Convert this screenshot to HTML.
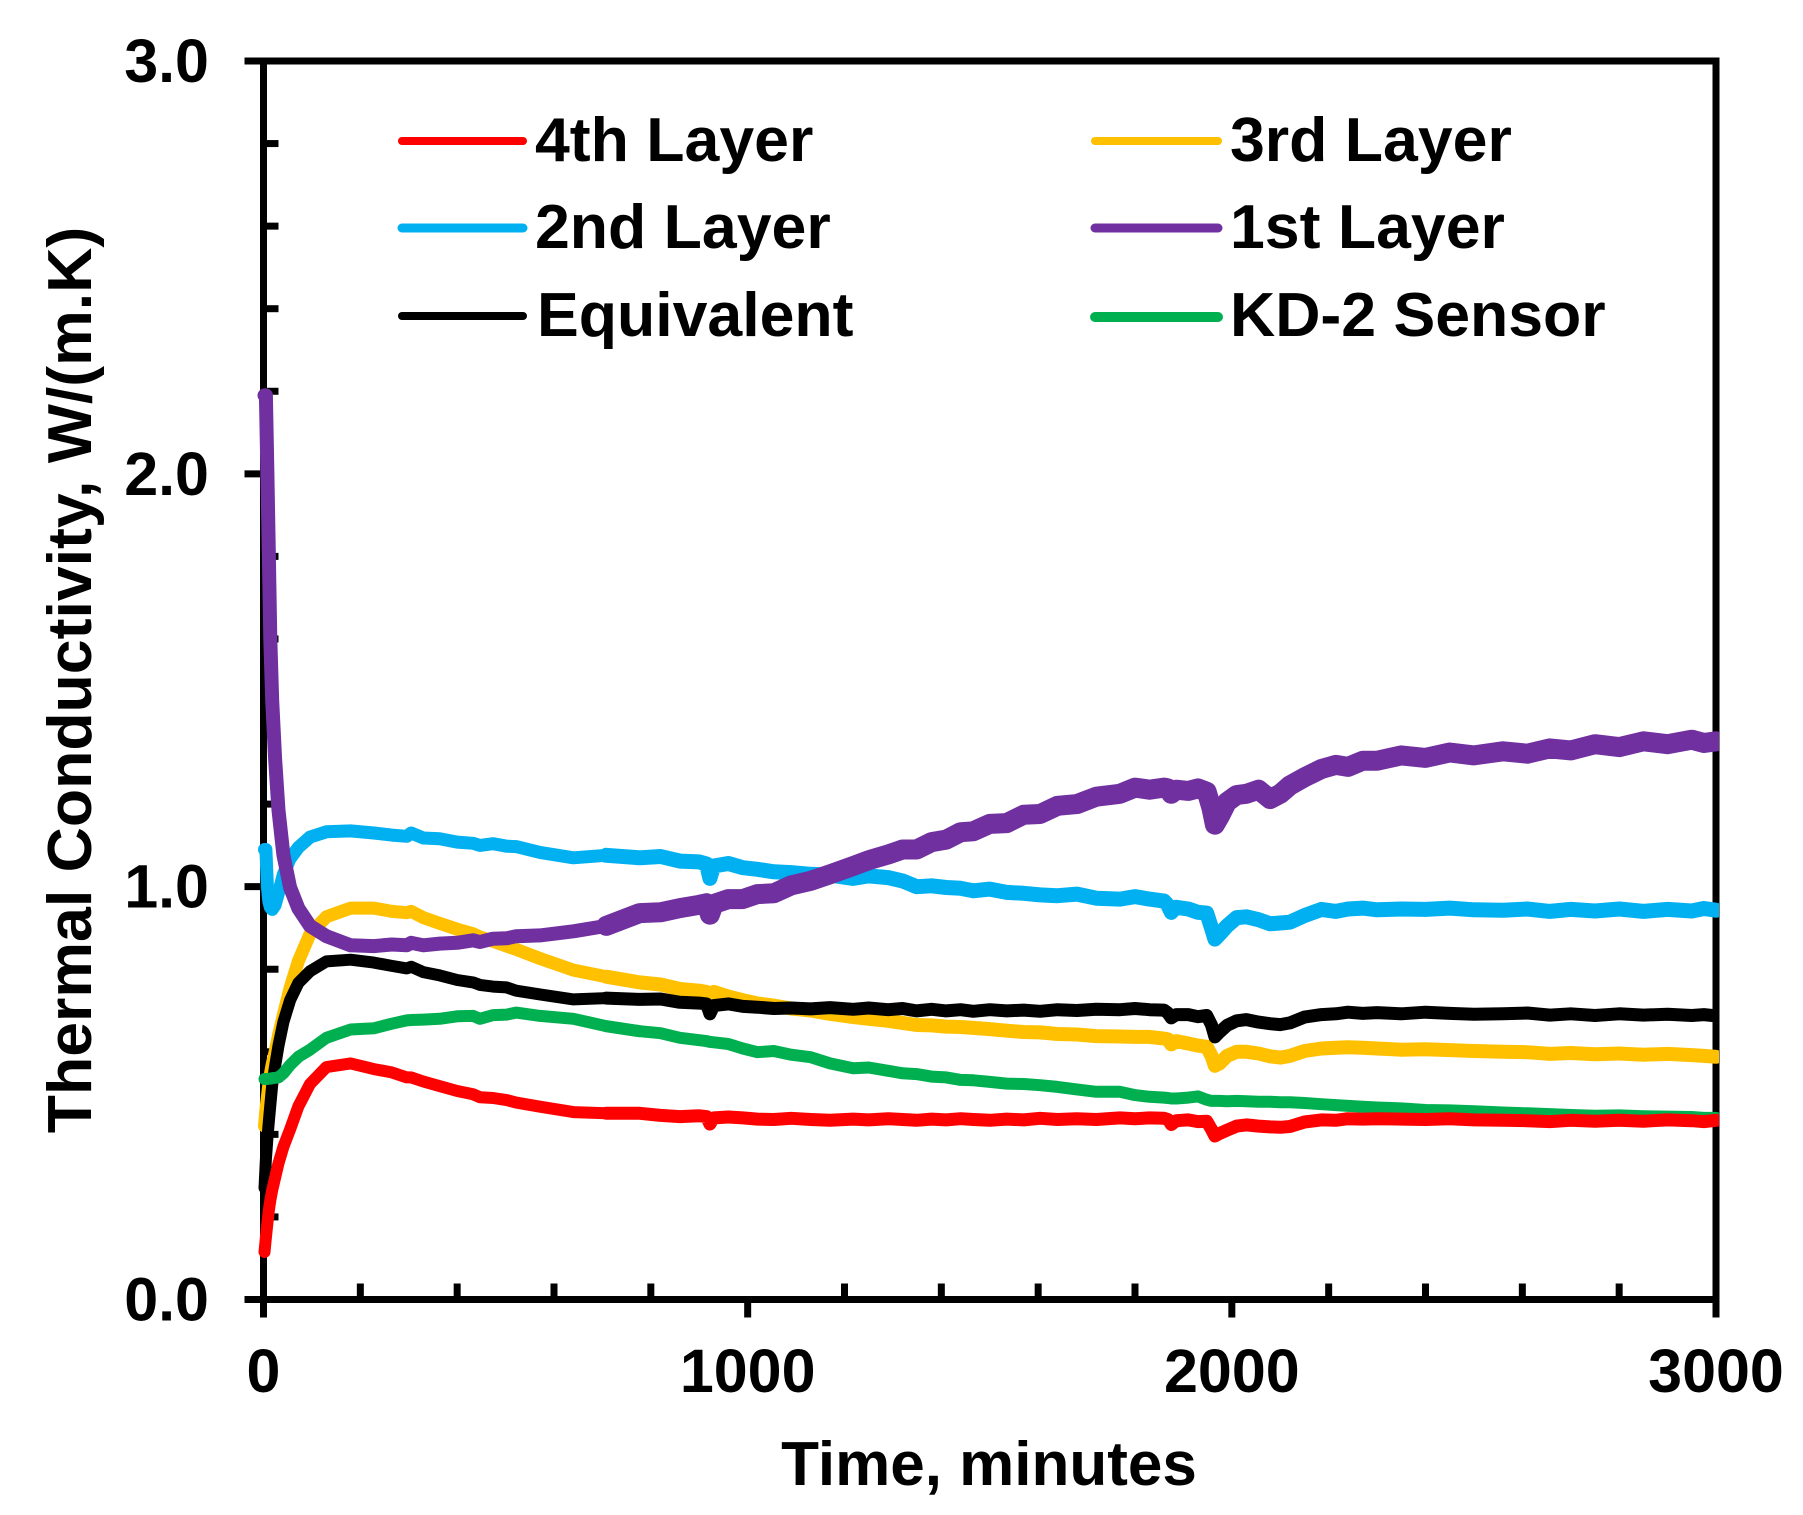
<!DOCTYPE html>
<html lang="en">
<head>
<meta charset="utf-8">
<title>Thermal Conductivity vs Time</title>
<style>
html,body{margin:0;padding:0;background:#fff;width:1803px;height:1515px;overflow:hidden}
svg{display:block}
text{font-family:"Liberation Sans",Arial,sans-serif;font-weight:700;font-size:62.6px;fill:#000}
text.tick{font-size:61px}
text.title{font-size:62px}
</style>
</head>
<body>
<svg id="chart" xmlns="http://www.w3.org/2000/svg" width="1803" height="1515" viewBox="0 0 1803 1515">
  <defs><clipPath id="plot-clip"><rect x="0" y="0" width="1719" height="1515"/></clipPath></defs>
  <rect x="0" y="0" width="1803" height="1515" fill="#fff"/>
  <g id="axes"></g>
  <g id="series" clip-path="url(#plot-clip)"></g>
  <text class="title" x="989" y="1485" text-anchor="middle">Time, minutes</text>
  <text transform="translate(91 680) rotate(-90)" text-anchor="middle">Thermal Conductivity, W/(m.K)</text>
  <g>
    <g>
      <line x1="402" y1="141" x2="523" y2="141" stroke="#FF0000" stroke-width="8" stroke-linecap="round"/>
      <text x="535" y="161">4th Layer</text>
    </g>
    <g>
      <line x1="1095" y1="141" x2="1218" y2="141" stroke="#FFC000" stroke-width="8" stroke-linecap="round"/>
      <text x="1230" y="161">3rd Layer</text>
    </g>
    <g>
      <line x1="402" y1="228" x2="523" y2="228" stroke="#00B0F0" stroke-width="9" stroke-linecap="round"/>
      <text x="535" y="248">2nd Layer</text>
    </g>
    <g>
      <line x1="1095" y1="228" x2="1218" y2="228" stroke="#7030A0" stroke-width="9" stroke-linecap="round"/>
      <text x="1230" y="248">1st Layer</text>
    </g>
    <g>
      <line x1="402" y1="316" x2="523" y2="316" stroke="#000" stroke-width="8" stroke-linecap="round"/>
      <text x="537" y="336">Equivalent</text>
    </g>
    <g>
      <line x1="1095" y1="317" x2="1218" y2="317" stroke="#00B050" stroke-width="10" stroke-linecap="round"/>
      <text x="1230" y="336">KD-2 Sensor</text>
    </g>
  </g>
</svg>
<script>
const xTickLabels = ["0", "1000", "2000", "3000"];
const yTickLabels = ["0.0", "1.0", "2.0", "3.0"];
const xMinorTicks = [200,400,600,800,1200,1400,1600,1800,2200,2400,2600,2800];
const yMinorTicks = [0.2,0.4,0.6,0.8,1.2,1.4,1.6,1.8,2.2,2.4,2.6,2.8];

const times = [
2,5,8,11,14,18,24,31,41,55,
72,96,130,180,228,265,296,305,330,364,
400,433,447,474,502,522,571,640,708,777,
820,860,900,915,922,930,960,990,1020,1054,
1090,1130,1170,1218,1250,1290,1320,1349,1380,1410,
1440,1466,1500,1535,1570,1604,1640,1680,1720,1769,
1800,1830,1860,1868,1875,1885,1910,1930,1948,1958,
1965,1975,1990,2010,2030,2055,2079,2100,2120,2150,
2185,2215,2240,2270,2300,2350,2400,2450,2500,2560,
2610,2657,2700,2750,2800,2850,2900,2950,2975,3000];

const layer4 = [
.115,.15,.185,.215,.24,.265,.295,.33,.37,.412,
.468,.522,.563,.572,.558,.55,.538,.538,.528,.517,
.505,.497,.49,.488,.483,.477,.467,.454,.451,.451,
.446,.443,.445,.443,.425,.44,.442,.44,.437,.436,
.439,.436,.434,.437,.435,.438,.436,.434,.437,.435,
.438,.436,.434,.437,.435,.439,.436,.438,.436,.44,
.438,.44,.439,.436,.424,.433,.435,.431,.432,.412,
.396,.402,.41,.42,.423,.42,.418,.417,.419,.43,
.435,.434,.438,.437,.438,.437,.436,.438,.435,.434,
.433,.431,.434,.432,.434,.432,.435,.433,.431,.434];

const layer3 = [
.42,.46,.49,.52,.545,.57,.60,.64,.69,.755,
.82,.885,.927,.948,.948,.94,.937,.94,.925,.911,
.897,.886,.878,.868,.856,.848,.826,.798,.782,.768,
.763,.752,.748,.745,.74,.745,.734,.725,.717,.712,
.705,.70,.692,.684,.68,.675,.67,.665,.664,.661,
.66,.658,.655,.651,.648,.647,.643,.642,.638,.637,
.636,.636,.632,.63,.618,.626,.62,.615,.612,.59,
.566,.572,.59,.60,.60,.596,.589,.586,.59,.602,
.608,.61,.611,.61,.608,.605,.606,.604,.602,.60,
.599,.595,.597,.594,.596,.593,.595,.592,.59,.588];

const layer2 = [
1.09,1.09,1.0,.965,.95,.945,.955,.985,1.03,1.068,
1.095,1.12,1.133,1.135,1.13,1.125,1.122,1.13,1.118,1.116,
1.108,1.105,1.10,1.104,1.098,1.097,1.083,1.07,1.076,1.07,
1.073,1.062,1.06,1.055,1.02,1.05,1.056,1.046,1.042,1.036,
1.034,1.03,1.028,1.02,1.026,1.022,1.014,1.00,1.002,.998,
.996,.99,.994,.986,.984,.98,.978,.982,.972,.97,
.976,.97,.965,.955,.938,.95,.946,.938,.936,.90,
.873,.885,.905,.925,.927,.92,.91,.912,.914,.93,
.945,.94,.946,.948,.944,.946,.945,.948,.944,.943,
.946,.94,.945,.941,.946,.94,.945,.941,.947,.943];

const layer1 = [
2.19,2.19,2.0,1.81,1.60,1.45,1.31,1.185,1.077,.998,
.947,.905,.88,.858,.856,.86,.858,.864,.858,.862,
.864,.87,.866,.874,.875,.88,.882,.892,.905,.936,
.938,.948,.956,.96,.932,.958,.97,.97,.982,.984,
1.003,1.014,1.03,1.05,1.064,1.078,1.09,1.09,1.108,1.114,
1.132,1.134,1.152,1.154,1.174,1.176,1.196,1.2,1.218,1.225,
1.24,1.235,1.24,1.238,1.225,1.235,1.232,1.238,1.23,1.19,
1.15,1.17,1.205,1.222,1.225,1.235,1.212,1.225,1.245,1.265,
1.285,1.295,1.29,1.305,1.305,1.318,1.312,1.325,1.318,1.328,
1.322,1.335,1.33,1.345,1.338,1.352,1.345,1.356,1.348,1.352];

const equivalent = [
.27,.34,.39,.43,.47,.52,.565,.615,.672,.725,
.767,.795,.819,.823,.816,.808,.802,.806,.793,.785,
.774,.768,.762,.758,.756,.748,.739,.727,.73,.727,
.728,.72,.718,.716,.692,.712,.716,.71,.708,.705,
.706,.704,.707,.703,.706,.702,.705,.699,.703,.699,
.702,.698,.702,.699,.701,.698,.702,.7,.703,.702,
.705,.702,.701,.694,.682,.69,.69,.685,.688,.665,
.636,.648,.664,.675,.678,.672,.668,.666,.67,.684,
.69,.692,.696,.693,.695,.692,.696,.693,.691,.692,
.694,.689,.692,.688,.692,.689,.691,.688,.69,.687];

const kd2Sensor = [
.534,.534,.534,.535,.535,.536,.537,.538,.548,.568,
.588,.605,.634,.654,.657,.668,.676,.677,.678,.68,
.686,.687,.68,.689,.69,.695,.687,.68,.662,.65,
.645,.634,.628,.626,.624,.623,.619,.608,.599,.602,
.593,.587,.572,.56,.562,.554,.548,.546,.54,.538,
.532,.531,.527,.523,.522,.519,.515,.509,.503,.503,
.495,.491,.489,.488,.487,.487,.489,.492,.484,.481,
.481,.481,.48,.481,.48,.479,.479,.478,.478,.476,
.473,.471,.469,.467,.465,.463,.459,.458,.456,.453,
.451,.449,.447,.445,.446,.444,.443,.442,.44,.44];

const PLOT = {left:263.5, right:1716, top:61, bottom:1299.5};
const NOISE_START = 700;
const NS = "http://www.w3.org/2000/svg";
function xScale(t){ return PLOT.left + (t/3000)*(PLOT.right-PLOT.left); }
function yScale(v){ return PLOT.bottom - (v/3)*(PLOT.bottom-PLOT.top); }

const axes = document.getElementById("axes");
const seriesGroup = document.getElementById("series");

function addLine(parent,x1,y1,x2,y2,w,color){
  const l = document.createElementNS(NS,"line");
  l.setAttribute("x1",x1); l.setAttribute("y1",y1);
  l.setAttribute("x2",x2); l.setAttribute("y2",y2);
  l.setAttribute("stroke",color||"#000");
  l.setAttribute("stroke-width",w);
  parent.appendChild(l);
  return l;
}

let el;
el = addLine(axes,PLOT.left,PLOT.top-3.5,PLOT.left,PLOT.bottom+18,7);


el = addLine(axes,PLOT.left-19,PLOT.bottom,PLOT.right+3.5,PLOT.bottom,7);


el = addLine(axes,PLOT.left-19,PLOT.top,PLOT.right+3.5,PLOT.top,7);


el = addLine(axes,PLOT.right,PLOT.top-3.5,PLOT.right,PLOT.bottom+18,7);



xMinorTicks.forEach(function(t){
  const m = addLine(axes,xScale(t),PLOT.bottom,xScale(t),PLOT.bottom-16,7);
  
  
});
yMinorTicks.forEach(function(v){
  const m = addLine(axes,PLOT.left,yScale(v),PLOT.left+15,yScale(v),7);
  
  
});
xTickLabels.forEach(function(lbl){
  const t = parseFloat(lbl);
  const m = addLine(axes,xScale(t),PLOT.bottom,xScale(t),PLOT.bottom+18,7);
  
  
  const tx = document.createElementNS(NS,"text");
  tx.setAttribute("class","tick");
  tx.setAttribute("x",xScale(t));
  tx.setAttribute("y",1392);
  tx.setAttribute("text-anchor","middle");
  tx.textContent = lbl;
  
  
  axes.appendChild(tx);
});
yTickLabels.forEach(function(lbl){
  const v = parseFloat(lbl);
  const m = addLine(axes,PLOT.left-19,yScale(v),PLOT.left,yScale(v),7);
  
  
  const tx = document.createElementNS(NS,"text");
  tx.setAttribute("class","tick");
  tx.setAttribute("x",209);
  tx.setAttribute("y",yScale(v)+21);
  tx.setAttribute("text-anchor","end");
  tx.textContent = lbl;
  
  
  axes.appendChild(tx);
});

function segmentPath(values,keep){
  let d = "";
  values.forEach(function(v,i){
    if(!keep(times[i])) return;
    d += (d?"L":"M") + xScale(times[i]).toFixed(1) + " " + yScale(v).toFixed(1);
  });
  return d;
}
function addSegment(d,color,width,name){
  const p = document.createElementNS(NS,"path");
  p.setAttribute("d",d);
  p.setAttribute("fill","none");
  p.setAttribute("stroke",color);
  p.setAttribute("stroke-width",width);
  p.setAttribute("stroke-linejoin","round");
  p.setAttribute("stroke-linecap","round");
  
  
  seriesGroup.appendChild(p);
}
function drawSeries(values,color,earlyWidth,lateWidth,name){
  addSegment(segmentPath(values,function(t){return t<=777;}),color,earlyWidth,name);
  addSegment(segmentPath(values,function(t){return t>=NOISE_START;}),color,lateWidth,name+"-noisy-band");
}
drawSeries(layer3,"#FFC000",13,14,"series-3rd-layer");
drawSeries(layer2,"#00B0F0",13,15,"series-2nd-layer");
drawSeries(layer1,"#7030A0",14,20,"series-1st-layer");
drawSeries(equivalent,"#000000",12,13,"series-equivalent");
drawSeries(kd2Sensor,"#00B050",12,12,"series-kd-2-sensor");
drawSeries(layer4,"#FF0000",12,13,"series-4th-layer");
</script>
</body>
</html>
